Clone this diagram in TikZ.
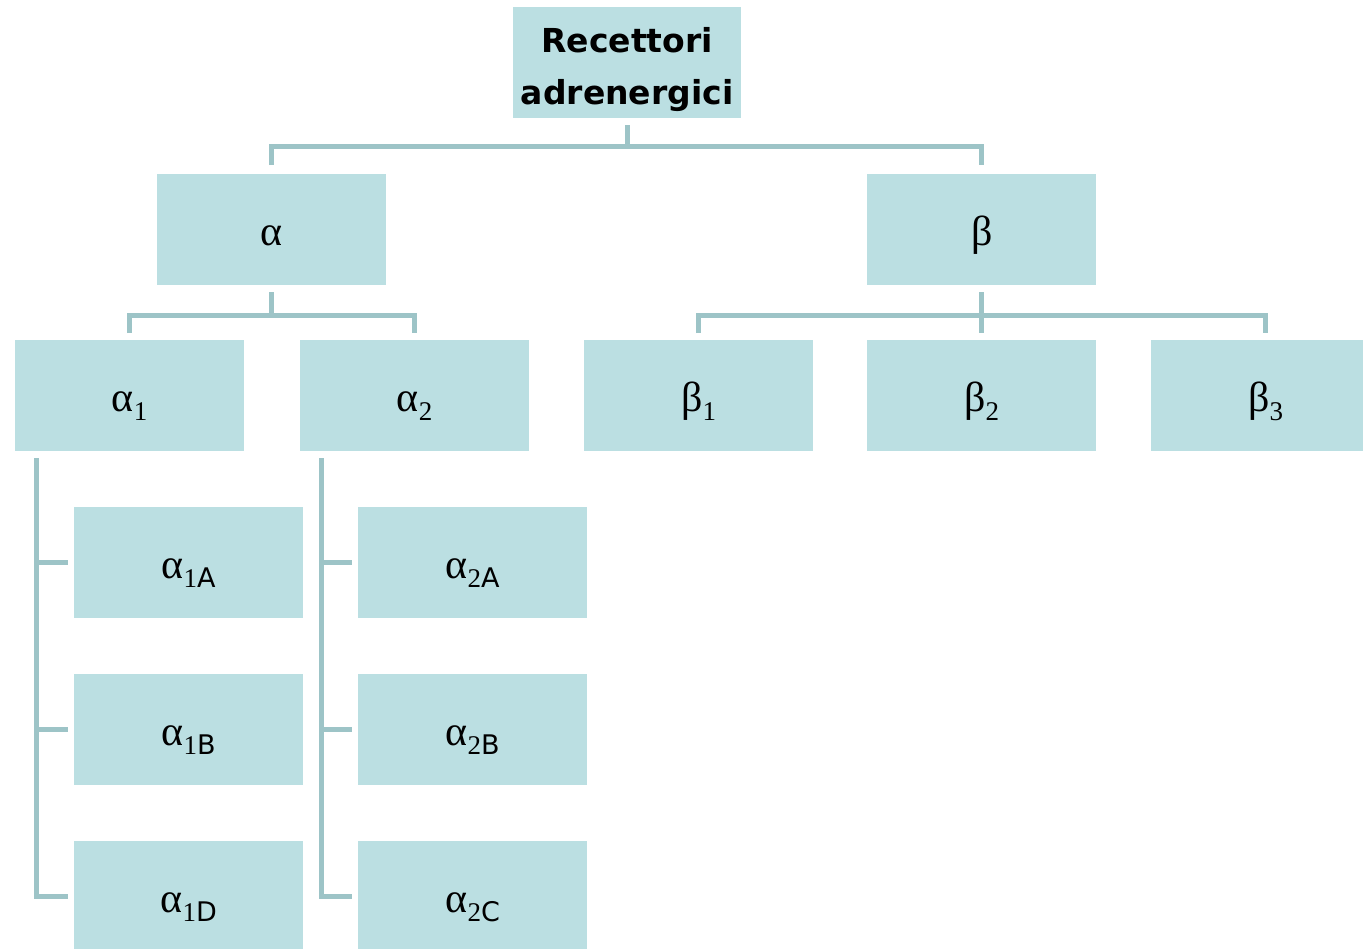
\documentclass[tikz,border=0pt]{standalone}
\usepackage{fontspec}
\newfontfamily\titlef{DejaVu Sans}[BoldFont={DejaVu Sans Bold}]
\newfontfamily\gf{Liberation Serif}
\definecolor{boxc}{HTML}{BBDFE2}
\definecolor{linec}{HTML}{9DC4C7}
\newcommand{\gl}[3]{\raisebox{-16pt}[0pt][0pt]{{\fontsize{42}{42}\selectfont\gf #1}\raisebox{-9pt}{\fontsize{27}{27}\selectfont\gf #2\titlef #3}}}
\begin{document}
\begin{tikzpicture}[x=1pt,y=-1pt,
  box/.style={fill=boxc, draw=none, minimum width=229pt, minimum height=111pt, inner sep=0pt, anchor=north west, align=center},
  conn/.style={draw=linec, line width=5pt, line cap=butt, line join=miter}]
\clip (0,0) rectangle (1363,948);
\node[box, minimum width=228pt, font={\fontsize{33}{52}\selectfont\titlef\bfseries}] (root) at (513,7) {\rule{0pt}{38pt}Recettori\\adrenergici};
\node[box] (al) at (157,174) {\gl{α}{}{}};
\node[box] (be) at (867,174) {\gl{β}{}{}};
\node[box] (a1) at (15,340) {\gl{α}{1}{}};
\node[box] (a2) at (300,340) {\gl{α}{2}{}};
\node[box] (b1) at (584,340) {\gl{β}{1}{}};
\node[box] (b2) at (867,340) {\gl{β}{2}{}};
\node[box] (b3) at (1151,340) {\gl{β}{3}{}};
\node[box] (a1a) at (74,507) {\gl{α}{1}{A}};
\node[box] (a1b) at (74,674) {\gl{α}{1}{B}};
\node[box] (a1d) at (74,841) {\gl{α}{1}{D}};
\node[box] (a2a) at (358,507) {\gl{α}{2}{A}};
\node[box] (a2b) at (358,674) {\gl{α}{2}{B}};
\node[box] (a2c) at (358,841) {\gl{α}{2}{C}};
% root connectors
\coordinate (j1) at ([yshift=-28pt]root.south);
\draw[conn] ([yshift=-7pt]root.south) -- (j1);
\draw[conn] ([yshift=9pt]al.north) |- (j1) -| ([yshift=9pt]be.north);
% alpha connectors
\coordinate (j2) at ([yshift=-30pt]al.south);
\draw[conn] ([yshift=-7pt]al.south) -- (j2);
\draw[conn] ([yshift=7pt]a1.north) |- (j2) -| ([yshift=7pt]a2.north);
% beta connectors
\coordinate (j3) at ([yshift=-30pt]be.south);
\draw[conn] ([yshift=-7pt]be.south) -- ([yshift=7pt]b2.north);
\draw[conn] ([yshift=7pt]b1.north) |- (j3) -| ([yshift=7pt]b3.north);
% alpha1 children
\coordinate (v1) at ([xshift=21pt,yshift=-7pt]a1.south west);
\draw[conn] (v1) |- ([xshift=-6pt]a1d.west);
\draw[conn] (v1 |- a1a.west) -- ([xshift=-6pt]a1a.west);
\draw[conn] (v1 |- a1b.west) -- ([xshift=-6pt]a1b.west);
% alpha2 children
\coordinate (v2) at ([xshift=21pt,yshift=-7pt]a2.south west);
\draw[conn] (v2) |- ([xshift=-6pt]a2c.west);
\draw[conn] (v2 |- a2a.west) -- ([xshift=-6pt]a2a.west);
\draw[conn] (v2 |- a2b.west) -- ([xshift=-6pt]a2b.west);
\end{tikzpicture}
\end{document}
